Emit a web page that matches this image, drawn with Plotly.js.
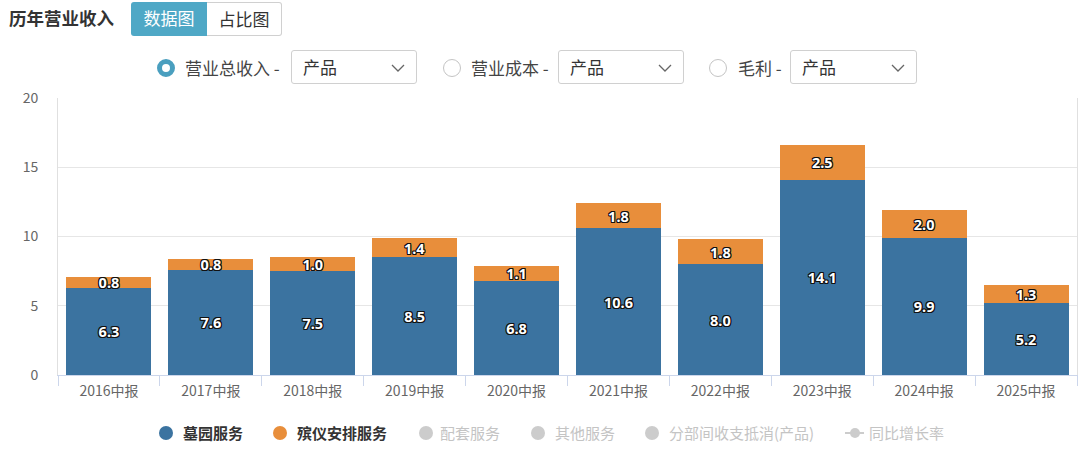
<!DOCTYPE html>
<html>
<head>
<meta charset="utf-8">
<script src="https://cdn.plot.ly/plotly-3.0.1.min.js"></script>
<style>
  html, body { margin:0; padding:0; background:#fff; }
  body { width:1080px; height:456px; position:relative; overflow:hidden;
         font-family:"Noto Sans CJK SC","Noto Sans",sans-serif; }
  #chart { position:absolute; left:0; top:0; width:1080px; height:456px; }
  .abs { position:absolute; white-space:nowrap; }
  .title { left:9px; top:4px; font-size:17.5px; font-weight:bold; color:#333; line-height:28px; }
  .btn { top:2px; height:34px; box-sizing:border-box; font-size:17px; line-height:32px; text-align:center; }
  .btn1 { left:131px; width:76px; background:#4fa8c6; color:#fff; border-radius:3px 0 0 3px; }
  .btn2 { left:207px; width:75px; border:1px solid #d0d0d0; border-left:none; color:#333; border-radius:0 3px 3px 0; background:#fff; }
  .radio { width:18px; height:18px; box-sizing:border-box; border-radius:50%; top:59px; }
  .radio.on { border:5px solid #4a9fbf; background:#fff; }
  .radio.off { border:1px solid #c4c4c4; background:#fff; }
  .rlabel { top:55px; font-size:17px; line-height:26px; color:#444; }
  .sel { top:50px; height:34px; box-sizing:border-box; border:1px solid #d0d0d0; border-radius:3px; background:#fff; }
  .sel span { position:absolute; left:11px; top:3px; font-size:17px; line-height:26px; color:#333; }
  .sel svg { position:absolute; top:13px; }
  .ldot { width:14px; height:14px; border-radius:50%; top:426px; }
  .ltext { top:420px; font-size:15px; line-height:26px; font-weight:bold; }
</style>
</head>
<body>
<div id="chart"></div>
<div id="overlay"></div>
<script>
// ---- data ----
const categories = ["2016中报","2017中报","2018中报","2019中报","2020中报","2021中报","2022中报","2023中报","2024中报","2025中报"];
const seriesNames = ["墓园服务","殡仪安排服务"];
const cemeteryServices = [6.3, 7.6, 7.5, 8.5, 6.8, 10.6, 8.0, 14.1, 9.9, 5.2];
const funeralServices  = [0.8, 0.8, 1.0, 1.4, 1.1, 1.8, 1.8, 2.5, 2.0, 1.3];
const inactiveSeries = ["配套服务","其他服务","分部间收支抵消(产品)"];
const lineSeriesName = "同比增长率";
const yTickVals = [0, 5, 10, 15, 20];
const headerTitle = "历年营业收入";
const tabLabels = ["数据图","占比图"];
const radioLabels = ["营业总收入 -","营业成本 -","毛利 -"];
const selectLabel = "产品";

const colors = ["#3b73a0", "#e88e3b"];
const labelShadow = "-1px -1px 0 #111, 1px -1px 0 #111, -1px 1px 0 #111, 1px 1px 0 #111, 0 1px 0 #111, 0 -1px 0 #111, 1px 0 0 #111, -1px 0 0 #111";

function barTrace(name, vals, color) {
  return {
    type: "bar", name: name, x: categories, y: vals,
    marker: { color: color, line: { width: 0 } },
    text: vals.map(v => v.toFixed(1)),
    textposition: "inside", insidetextanchor: "middle",
    constraintext: "none", textangle: 0, cliponaxis: false,
    textfont: { color: "#fff", size: 14.5, family: "Noto Sans, DejaVu Sans, sans-serif", weight: "bold", shadow: labelShadow },
    hoverinfo: "x+y+name"
  };
}

const data = [
  barTrace(seriesNames[0], cemeteryServices, colors[0]),
  barTrace(seriesNames[1], funeralServices, colors[1])
];

const layout = {
  width: 1080, height: 456,
  margin: { l: 58, r: 3, t: 98, b: 81 },
  barmode: "stack", bargap: 0.165,
  showlegend: false,
  paper_bgcolor: "#fff", plot_bgcolor: "#fff",
  font: { family: "Noto Sans CJK SC, Noto Sans, sans-serif", color: "#666", size: 14 },
  xaxis: {
    type: "category", tickson: "boundaries", ticks: "outside", ticklen: 10,
    tickcolor: "#ccd6eb", showline: true, linecolor: "#ccd6eb", linewidth: 1,
    ticklabelstandoff: 3,
    showgrid: false, tickfont: { size: 14, color: "#666" }, fixedrange: true
  },
  yaxis: {
    range: [0, 20], tickvals: yTickVals, ticktext: yTickVals.map(String),
    showgrid: true, gridcolor: "#e6e6e6", gridwidth: 1,
    showline: true, linecolor: "#e0e0e0", mirror: true, zeroline: false,
    ticks: "", ticklabelstandoff: 16, tickfont: { size: 14, color: "#666" }, fixedrange: true
  }
};

Plotly.newPlot("chart", data, layout, { displayModeBar: false, staticPlot: true });

// ---- header & legend overlay (HTML) ----
const ov = document.getElementById("overlay");
function el(cls, style, html) {
  const d = document.createElement("div");
  d.className = "abs " + cls;
  Object.assign(d.style, style || {});
  if (html !== undefined) d.innerHTML = html;
  ov.appendChild(d);
  return d;
}
el("title", {}, headerTitle);
el("btn btn1", {}, tabLabels[0]);
el("btn btn2", {}, tabLabels[1]);

const chevron = '<svg width="14" height="8" viewBox="0 0 14 8"><polyline points="1,1 7,7 13,1" fill="none" stroke="#666" stroke-width="1.3"/></svg>';
const radioX = [157, 443, 709];
const labelX = [185, 471, 738];
const selX = [291, 558, 790];
const selW = [126, 126, 127];
radioLabels.forEach((t, i) => {
  el("radio " + (i === 0 ? "on" : "off"), { left: radioX[i] + "px" });
  el("rlabel", { left: labelX[i] + "px" }, t);
  const s = el("sel", { left: selX[i] + "px", width: selW[i] + "px" },
    '<span>' + selectLabel + '</span>');
  const c = document.createElement("div");
  c.innerHTML = chevron;
  const svg = c.firstChild;
  svg.style.left = (selW[i] - 27) + "px";
  s.appendChild(svg);
});

// legend
const legendDotX = [159, 273, 419, 531, 645];
const legendTextX = [183, 297, 440, 555, 669];
const allLegend = seriesNames.concat(inactiveSeries);
allLegend.forEach((name, i) => {
  const active = i < seriesNames.length;
  el("ldot", { left: legendDotX[i] + "px", background: active ? colors[i] : "#cccccc" });
  el("ltext", { left: legendTextX[i] + "px", color: active ? "#333" : "#c4c4c4", fontWeight: active ? "bold" : "normal" }, name);
});
el("", { left: "845px", top: "432px", width: "19px", height: "2px", background: "#cccccc" });
el("", { left: "850px", top: "428px", width: "10px", height: "10px", borderRadius: "50%", background: "#cccccc" });
el("ltext", { left: "869px", color: "#c4c4c4", fontWeight: "normal" }, lineSeriesName);
</script>
</body>
</html>
